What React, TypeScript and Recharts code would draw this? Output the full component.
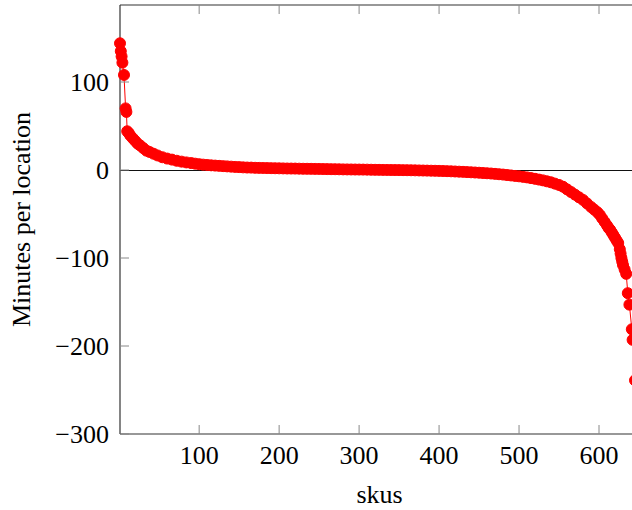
import React from 'react';
import { LineChart, Line, XAxis, YAxis, ReferenceLine } from 'recharts';

const skus = [
  1, 2, 3, 4, 6, 8, 9, 10, 12, 14, 17, 20, 23, 26, 30, 34, 38, 43, 48, 54, 60, 66, 72, 78, 84, 90, 95,
  100, 105, 110, 115, 120, 125, 130, 135, 140, 145, 150, 155, 160, 165, 170, 175, 180, 185, 190, 195,
  200, 205, 210, 215, 220, 225, 230, 235, 240, 245, 250, 255, 260, 265, 270, 275, 280, 285, 290, 295,
  300, 305, 310, 315, 320, 325, 330, 335, 340, 345, 350, 355, 360, 365, 370, 375, 380, 385, 390, 395,
  400, 405, 410, 415, 420, 425, 430, 435, 440, 445, 450, 455, 460, 465, 470, 475, 480, 485, 490, 495,
  500, 505, 510, 515, 520, 525, 530, 535, 540, 545, 550, 555, 560, 565, 570, 575, 580, 585, 590, 594,
  598, 601, 604, 607, 610, 612, 614, 616, 618, 620, 622, 624, 626, 627, 628, 629, 630, 632, 634, 636,
  638, 641, 642, 645,
];

const minutes = [
  144, 135, 129, 122, 108, 70, 66, 44, 42, 39, 36, 33, 30, 28, 25, 22, 20.5, 18.5, 16.5, 14.5, 13, 11.8, 10.5, 9.5, 8.6, 7.9, 7.2,
  6.6, 6.1, 5.7, 5.3, 5, 4.7, 4.4, 4.1, 3.8, 3.5, 3.3, 3.0, 2.8, 2.7, 2.5, 2.4, 2.3, 2.2, 2.1, 2.0,
  1.9, 1.8, 1.7, 1.65, 1.6, 1.5, 1.4, 1.35, 1.3, 1.25, 1.2, 1.1, 1.0, 0.95, 0.9, 0.8, 0.7, 0.65, 0.6, 0.55,
  0.5, 0.45, 0.4, 0.3, 0.2, 0.15, 0.1, 0.05, 0, -0.05, -0.1, -0.15, -0.2, -0.3, -0.4, -0.5, -0.6, -0.7, -0.8, -0.9,
  -1.0, -1.15, -1.3, -1.5, -1.7, -1.9, -2.1, -2.35, -2.6, -2.85, -3.1, -3.4, -3.7, -4.0, -4.4, -4.8, -5.2, -5.7, -6.2, -6.7,
  -7.2, -7.8, -8.4, -9.2, -10, -10.9, -11.8, -12.9, -14, -15.5, -17, -19, -22, -25, -28, -31, -34, -38, -42, -45,
  -48, -51, -55, -59, -63, -66, -68, -71, -74, -77, -80, -83, -90, -95, -100, -104, -108, -113, -118, -140,
  -153, -181, -193, -239,
];

const xTicks = [100, 200, 300, 400, 500, 600];
const yTicks = [-300, -200, -100, 0, 100];

const data = skus.map((s, i) => ({ sku: s, minutes: minutes[i] }));

const font = '"Liberation Serif", "Times New Roman", serif';
const fmt = (v: number) => (v < 0 ? '\u2212' + Math.abs(v) : String(v));
const TICK = 9;
const X_GAP = 12;
const Y_GAP = 11;
const tickColor = '#888';
const axisStyle = { stroke: '#333', strokeWidth: 1.2 };

// pgfplots style: tick marks point into the plot
const BottomTick = (props: any) => {
  const { x, y, payload } = props;
  const axisY = y - X_GAP;
  return (
    <g>
      <line x1={x} x2={x} y1={axisY} y2={axisY - TICK} stroke={tickColor} />
      <text x={x} y={y} dy="0.71em" textAnchor="middle" fill="#000" fontSize={26} fontFamily={font}>
        {fmt(payload.value)}
      </text>
    </g>
  );
};

const TopTick = (props: any) => {
  const { x, y } = props;
  return <line x1={x} x2={x} y1={y} y2={y + TICK} stroke={tickColor} />;
};

const LeftTick = (props: any) => {
  const { x, y, payload } = props;
  const axisX = x + Y_GAP;
  return (
    <g>
      <line x1={axisX} x2={axisX + TICK} y1={y} y2={y} stroke={tickColor} />
      <text x={x} y={y} dy="0.355em" textAnchor="end" fill="#000" fontSize={26} fontFamily={font}>
        {fmt(payload.value)}
      </text>
    </g>
  );
};

export default function App() {
  return (
    <div style={{ position: 'fixed', left: 0, top: 0, width: 632, height: 510, overflow: 'hidden', background: '#fff' }}>
      <LineChart
        width={644}
        height={510}
        data={data}
        margin={{ top: 4, right: 5, bottom: 0, left: 0 }}
        style={{ fontFamily: font }}
      >
        <XAxis
          xAxisId="top"
          orientation="top"
          dataKey="sku"
          type="number"
          domain={[1, 650]}
          ticks={xTicks}
          height={1}
          tickSize={0}
          tickMargin={0}
          tickLine={false}
          tick={<TopTick />}
          axisLine={axisStyle}
        />
        <XAxis
          dataKey="sku"
          type="number"
          domain={[1, 650]}
          ticks={xTicks}
          height={76}
          tickSize={0}
          tickMargin={X_GAP}
          tickLine={false}
          tick={<BottomTick />}
          axisLine={axisStyle}
          label={{ value: 'skus', position: 'insideBottom', offset: 7, fill: '#000', fontSize: 26, fontFamily: font }}
        />
        <YAxis
          type="number"
          domain={[-300, 187.5]}
          ticks={yTicks}
          width={120}
          tickSize={0}
          tickMargin={Y_GAP}
          tickLine={false}
          tick={<LeftTick />}
          axisLine={axisStyle}
          label={{
            value: 'Minutes per location',
            angle: -90,
            position: 'insideLeft',
            offset: 21,
            fill: '#000',
            fontSize: 26,
            fontFamily: font,
            style: { textAnchor: 'middle' },
          }}
        />
        <ReferenceLine y={0} stroke="#111" strokeWidth={1} shapeRendering="crispEdges" />
        <Line
          dataKey="minutes"
          stroke="#ff0000"
          strokeWidth={1}
          dot={{ r: 5.5, fill: '#ff0000', stroke: '#ff0000', strokeWidth: 1 }}
          isAnimationActive={false}
        />
      </LineChart>
    </div>
  );
}
